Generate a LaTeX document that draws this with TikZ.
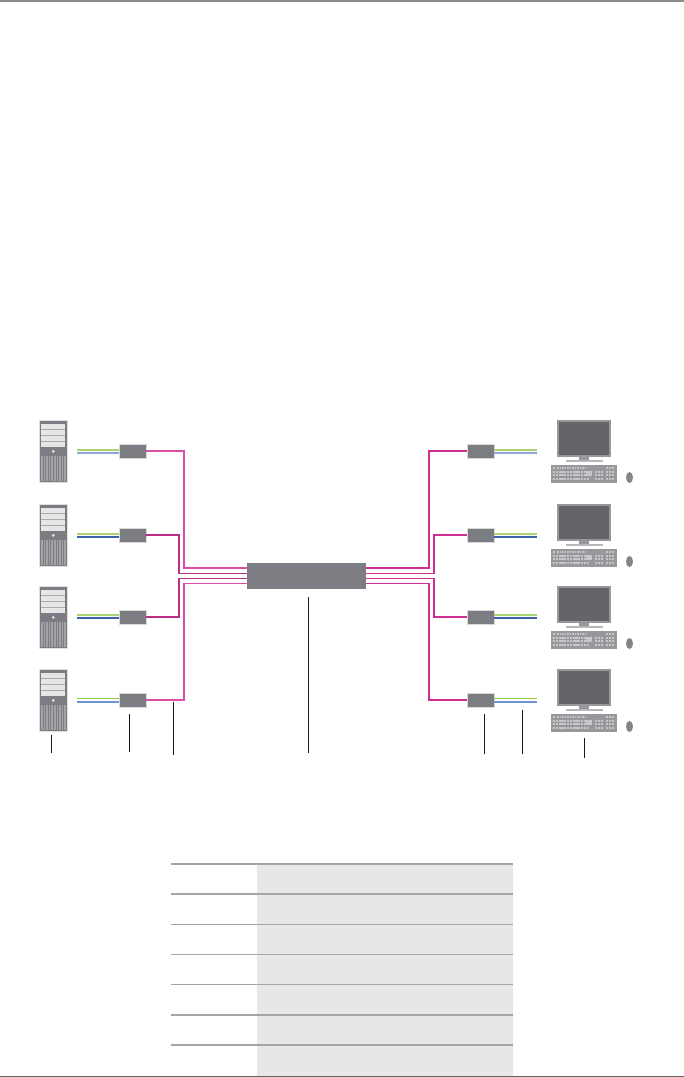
\documentclass[tikz,border=0pt]{standalone}
\usetikzlibrary{shapes.geometric}
\definecolor{boxgray}{HTML}{7B7D82}
\definecolor{screen}{HTML}{646569}
\definecolor{bezel}{HTML}{97989C}
\definecolor{bay}{HTML}{E6E6E6}
\definecolor{baygap}{HTML}{A9AAAD}
\definecolor{vent}{HTML}{A2A3A6}
\definecolor{keyc}{HTML}{C6C7C9}
\definecolor{kbbg}{HTML}{97989B}
\definecolor{mousec}{HTML}{84858A}
\definecolor{magA}{HTML}{DA4FA5}
\definecolor{magB}{HTML}{BE2E88}
\definecolor{magC}{HTML}{CF2F92}
\definecolor{grnA}{HTML}{A9D46F}
\definecolor{grnB}{HTML}{95CC45}
\definecolor{bluA}{HTML}{8FA8D8}
\definecolor{bluB}{HTML}{3C62B0}
\definecolor{bluC}{HTML}{6F96D2}
\definecolor{rule}{HTML}{A5A5A5}
\definecolor{cellc}{HTML}{E7E7E7}
\tikzset{
  devbox/.style={draw=black!15,line width=.5pt,fill=boxgray,minimum width=27pt,minimum height=14pt,inner sep=0pt,outer sep=0pt},
  hubbox/.style={fill=boxgray,minimum width=119pt,minimum height=26pt,inner sep=0pt,outer sep=0pt},
  towerbox/.style={draw=black!12,line width=.7pt,fill=boxgray,minimum width=28.5pt,minimum height=62pt,inner sep=0pt,outer sep=0pt},
  monbox/.style={fill=bezel,minimum width=54pt,minimum height=37pt,inner sep=0pt,outer sep=0pt},
  kbbox/.style={fill=kbbg,minimum width=66pt,minimum height=18pt,inner sep=0pt,outer sep=0pt},
  mousenode/.style={ellipse,fill=mousec,minimum width=7pt,minimum height=11pt,inner sep=0pt,outer sep=0pt},
  leader/.style={draw=black!90,line width=.9pt},
  cat/.style={line width=1.3pt},
  rulethick/.style={draw=rule,line width=1.8pt},
  rulethin/.style={draw=rule,line width=1.1pt}
}
% tower: #1 name, #2 top y
\newcommand{\towerdev}[2]{%
  \node[towerbox,anchor=north west] (#1) at (39,#2) {};
  \begin{scope}[shift={(0,#2)}]
    \fill[baygap] (41.3,4) rectangle (64.7,27.2);
    \foreach \yy in {4,10,16,22} \fill[bay] (41.3,\yy) rectangle (64.7,\yy+5.2);
    \fill[bay] (53.3,31.3) circle (1.5);
    \foreach \xx in {41,43.6,...,65} \fill[vent] (\xx,35.5) rectangle (\xx+1.6,60.5);
  \end{scope}}
% workstation: #1 name suffix, #2 top y
\newcommand{\workdev}[2]{%
  \node[monbox,anchor=north west] (mon#1) at (557,#2) {};
  \node[kbbox,anchor=north west] (kb#1) at (551,#2+45) {};
  \node[mousenode] (mouse#1) at (629.5,#2+57.5) {};
  \begin{scope}[shift={(0,#2)}]
    \fill[screen] (559,2) rectangle (609,35);
    \fill[bezel] (579.3,37) rectangle (588.7,40);
    \fill[bezel!70] (566,40) rectangle (602.7,41.8);
    \fill[keyc] (553,47) rectangle (555,49);
    \foreach \xx in {557,559.5,...,586} \fill[keyc] (\xx,47) rectangle (\xx+1.7,49);
    \foreach \yy in {50.5,54,57.5} {
      \foreach \xx in {553,555.8,...,589} \fill[keyc] (\xx,\yy) rectangle (\xx+2.1,\yy+2.4);
    }
    \fill[keyc] (586,50.5) rectangle (591.5,56);
    \foreach \yy in {50.5,54,57.5} {
      \foreach \xx in {595,598,601} \fill[keyc] (\xx,\yy) rectangle (\xx+2.1,\yy+2.4);
      \foreach \xx in {606,609,612} \fill[keyc] (\xx,\yy) rectangle (\xx+2.1,\yy+2.4);
    }
    \foreach \xx in {606,609,612} \fill[keyc] (\xx,47) rectangle (\xx+2.1,49);
  \end{scope}}
\begin{document}
\begin{tikzpicture}[x=1pt,y=-1pt]
\useasboundingbox (0,0) rectangle (684,1077);
\fill[white] (0,0) rectangle (684,1077);
% page rules
\coordinate (topL) at (0,.8); \coordinate (topR) at (684,.8);
\draw[draw=black!45,line width=1.6pt] (topL) -- (topR);
% devices
\towerdev{t1}{420}\towerdev{t2}{504}\towerdev{t3}{586}\towerdev{t4}{669}
\workdev{1}{420}\workdev{2}{504}\workdev{3}{586}\workdev{4}{669}
% hub and boxes
\node[hubbox,anchor=north west] (hub) at (247,563) {};
\foreach \n/\yy in {1/451,2/535,3/617,4/700} {
  \node[devbox] (l\n) at (132.5,\yy) {};
  \node[devbox] (r\n) at (480.5,\yy) {};
}
% hub ports
\coordinate (hw1) at (247,568); \coordinate (hw2) at (247,573.3);
\coordinate (hw3) at (247,578.3); \coordinate (hw4) at (247,583.3);
\coordinate (he1) at (366,568); \coordinate (he2) at (366,573.3);
\coordinate (he3) at (366,578.3); \coordinate (he4) at (366,583.3);
% category lines
\draw[cat,magA] (l1.east) -- ++(38,0) |- (hw1);
\draw[cat,magB] (l2.east) -- ++(33,0) |- (hw2);
\draw[cat,magB] (l3.east) -- ++(33,0) |- (hw3);
\draw[cat,magA] (l4.east) -- ++(38,0) |- (hw4);
\draw[cat,magC] (he1) -| ++(63,-30) |- (r1.west);
\draw[cat,magC] (he2) -| ++(68,-10) |- (r2.west);
\draw[cat,magC] (he3) -| ++(68,10) |- (r3.west);
\draw[cat,magC] (he4) -| ++(63,30) |- (r4.west);
% signal line end points
\foreach \n/\yy in {1/450,2/533.8,3/614.8,4/698.3} {
  \coordinate (gl\n) at (77,\yy); \coordinate (gle\n) at (119,\yy);
  \coordinate (gr\n) at (537,\yy); \coordinate (gre\n) at (494,\yy);
}
\foreach \n/\yy in {1/453,2/537,3/618,4/702} {
  \coordinate (bl\n) at (77,\yy); \coordinate (ble\n) at (119,\yy);
  \coordinate (br\n) at (537,\yy); \coordinate (bre\n) at (494,\yy);
}
\foreach \n/\g/\b/\gw/\bw in {1/grnA/bluA/2.2/2,2/grnA/bluB/1.8/1.4,3/grnA/bluB/1.8/1.5,4/grnB/bluC/1.3/1.8} {
  \draw[line width=\gw pt,\g] (gl\n) -- (gle\n);
  \draw[line width=\bw pt,\b] (bl\n) -- (ble\n);
  \draw[line width=\gw pt,\g] (gr\n) -- (gre\n);
  \draw[line width=\bw pt,\b] (br\n) -- (bre\n);
}
% leaders
\coordinate (a1) at (51.3,735); \coordinate (a2) at (51.3,752.5);
\coordinate (b1) at (129.5,714); \coordinate (b2) at (129.5,752);
\coordinate (c1) at (173.5,702); \coordinate (c2) at (173.5,755);
\coordinate (d1) at (308.5,597); \coordinate (d2) at (308.5,753);
\coordinate (e1) at (484.3,714); \coordinate (e2) at (484.3,754);
\coordinate (f1) at (522.3,710); \coordinate (f2) at (522.3,754);
\coordinate (g1) at (584.5,738); \coordinate (g2) at (584.5,758);
\foreach \p in {a,b,c,d,e,f,g} \draw[leader] (\p1) -- (\p2);
% table
\fill[cellc] (257,864) rectangle (513,1076);
\draw[rulethick] (171,864) -- (513,864);
\draw[rulethick] (171,894.3) -- (513,894.3);
\draw[rulethin] (171,924.3) -- (513,924.3);
\draw[rulethin] (171,954.3) -- (513,954.3);
\draw[rulethin] (171,984.3) -- (513,984.3);
\draw[rulethick] (171,1015) -- (513,1015);
\draw[rulethick] (171,1045) -- (513,1045);
\draw[draw=black!60,line width=1.2pt] (0,1076.3) -- (684,1076.3);
\end{tikzpicture}
\end{document}
